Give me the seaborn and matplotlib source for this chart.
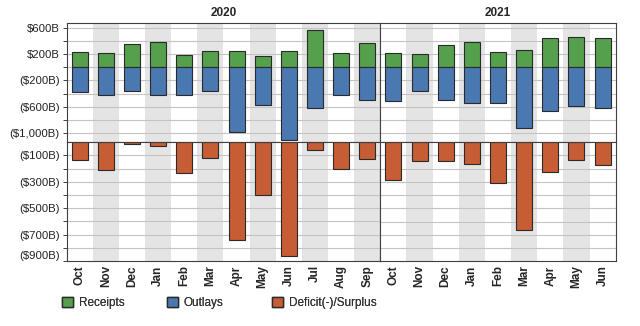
import matplotlib
matplotlib.use("Agg")
import matplotlib.pyplot as plt
import seaborn as sns
import pandas as pd
from matplotlib.patches import Patch

sns.set_theme(style="white")
plt.rcParams['font.family'] = ['Liberation Sans', 'DejaVu Sans']

months_2020 = ["Oct", "Nov", "Dec", "Jan", "Feb", "Mar", "Apr", "May", "Jun", "Jul", "Aug", "Sep"]
months_2021 = ["Oct", "Nov", "Dec", "Jan", "Feb", "Mar", "Apr", "May", "Jun"]

receipts_2020 = [235, 219, 347, 387, 192, 241, 242, 174, 240, 563, 224, 372]
outlays_2020 = [-369, -428, -361, -420, -427, -360, -980, -573, -1104, -626, -424, -497]
deficit_2020 = [-134, -209, -13, -33, -235, -119, -738, -399, -864, -63, -200, -125]

receipts_2021 = [222, 209, 346, 383, 226, 268, 439, 464, 449]
outlays_2021 = [-506, -355, -490, -546, -537, -927, -664, -596, -623]
deficit_2021 = [-284, -145, -144, -163, -311, -660, -226, -132, -174]

top_ticks = [600, 200, -200, -600, -1000]
top_grid = [600, 400, 200, 0, -200, -400, -600, -800, -1000]
bot_ticks = [-100, -300, -500, -700, -900]
bot_grid = [-100, -200, -300, -400, -500, -600, -700, -800]

legend_labels = ["Receipts", "Outlays", "Deficit(-)/Surplus"]

GREEN = "#55a04c"
BLUE = "#4a78b1"
ORANGE = "#c65d34"
SHADE = "#e4e4e4"
GRIDC = "#c4c4c4"
EDGE = "#2a2a2a"
FRAME = "#404040"


def fmt(v):
    if v < 0:
        return "(${:,}B)".format(-v)
    return "${:,}B".format(v)


fig = plt.figure(figsize=(6.4, 3.26), dpi=100)
gs = fig.add_gridspec(2, 2, width_ratios=[12, 9], height_ratios=[1, 1],
                      left=0.104, right=0.962, top=0.929, bottom=0.199,
                      wspace=0, hspace=0)

datasets = [
    ("2020", months_2020, receipts_2020, outlays_2020, deficit_2020),
    ("2021", months_2021, receipts_2021, outlays_2021, deficit_2021),
]

for col, (year, months, rec, out, dfc) in enumerate(datasets):
    axt = fig.add_subplot(gs[0, col])
    axb = fig.add_subplot(gs[1, col])
    n = len(months)
    df = pd.DataFrame({"month": months, "rec": rec, "out": out, "dfc": dfc})

    for ax in (axt, axb):
        for i in range(n):
            if i % 2 == 1:
                ax.axvspan(i - 0.5, i + 0.5, color=SHADE, lw=0, zorder=0)

    for g in top_grid:
        axt.axhline(g, color=GRIDC, lw=0.8, zorder=0.5)
    for g in bot_grid:
        axb.axhline(g, color=GRIDC, lw=0.8, zorder=0.5)

    sns.barplot(data=df, x="month", y="rec", color=GREEN, saturation=1,
                width=0.61, edgecolor=EDGE, linewidth=0.8, ax=axt, zorder=2)
    sns.barplot(data=df, x="month", y="out", color=BLUE, saturation=1,
                width=0.61, edgecolor=EDGE, linewidth=0.8, ax=axt, zorder=2)
    sns.barplot(data=df, x="month", y="dfc", color=ORANGE, saturation=1,
                width=0.61, edgecolor=EDGE, linewidth=0.8, ax=axb, zorder=2)

    for ax in (axt, axb):
        ax.set_xlim(-0.5, n - 0.5)
        ax.set_xlabel("")
        ax.set_ylabel("")
        for s in ax.spines.values():
            s.set_color(FRAME)
            s.set_linewidth(0.8)
            s.set_visible(True)

    axt.set_ylim(-1138, 671)
    axb.set_ylim(-897, 0)

    axt.set_xticks([])
    axb.set_xticks(range(n))
    axb.set_xticklabels(months, rotation=90, fontsize=8.5, fontweight="bold")
    axb.tick_params(axis="x", length=0, pad=3)

    axt.set_title(year, fontsize=8.5, fontweight="bold", pad=5)

    if col == 0:
        axt.set_yticks(top_ticks)
        axt.set_yticklabels([fmt(v) for v in top_ticks], fontsize=8.2, color="#222222")
        axt.set_yticks(top_grid, minor=True)
        axb.set_yticks(bot_ticks)
        axb.set_yticklabels([fmt(v) for v in bot_ticks], fontsize=8.2, color="#222222")
        axb.set_yticks(bot_grid, minor=True)
        axb.get_yticklabels()[-1].set_va("bottom")
        for ax in (axt, axb):
            ax.tick_params(axis="y", which="both", left=True, length=3,
                           width=0.7, color=FRAME, pad=2)
    else:
        axt.set_yticks([])
        axb.set_yticks([])

colors = [GREEN, BLUE, ORANGE]
xs = [0.097, 0.261, 0.425]
for lab, c, x in zip(legend_labels, colors, xs):
    leg = fig.legend(handles=[Patch(facecolor=c, edgecolor=EDGE, label=lab)],
                     loc="center left", bbox_to_anchor=(x, 0.07),
                     frameon=False, fontsize=8.5, handlelength=0.9,
                     handleheight=0.9, handletextpad=0.5, borderpad=0,
                     borderaxespad=0, labelcolor="#333333")
    fig.add_artist(leg)

fig.savefig("out.png", dpi=100)
